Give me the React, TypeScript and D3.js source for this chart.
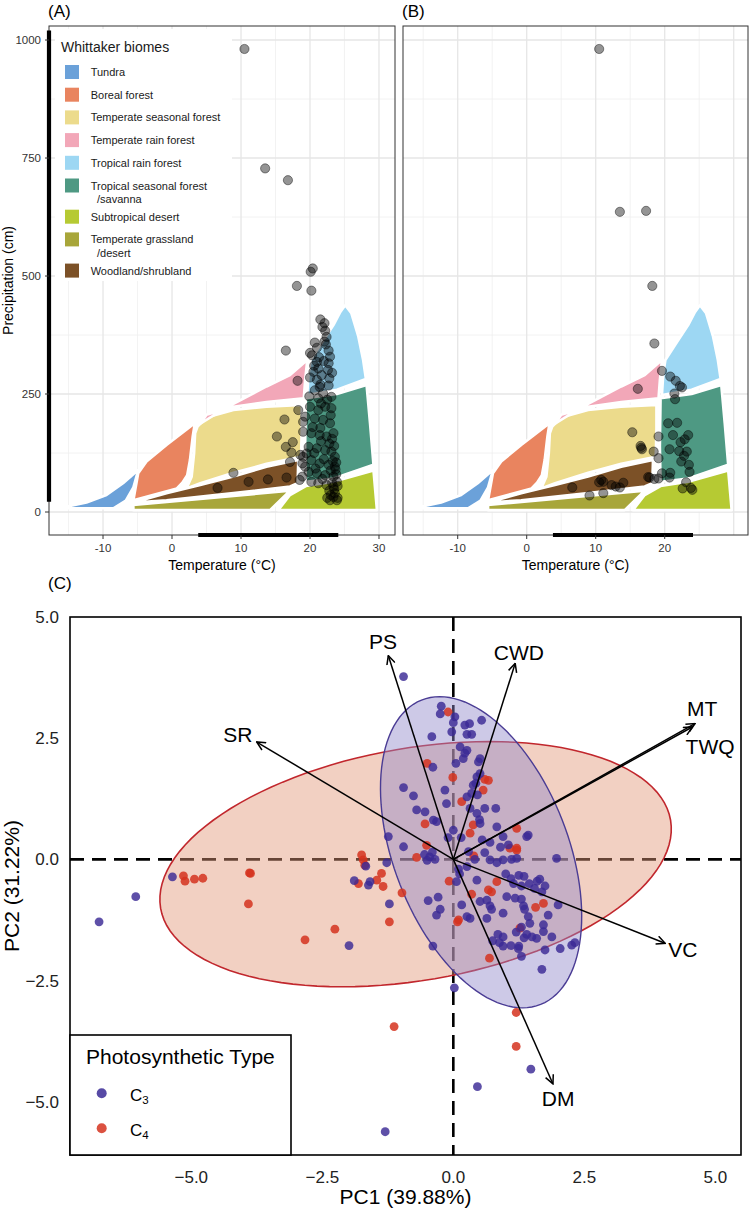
import React from "react";
import * as d3 from "d3";

type Pt = [number, number];

// ---------- Whittaker biome polygons: [temperature °C, precipitation cm] ----------
const tundra: Pt[] = [[-15.3, 11], [-12.4, 20], [-9.5, 36], [-7.1, 61], [-4.9, 89], [-5.6, 52], [-6.7, 24], [-8.5, 8], [-15.3, 8]];
const borealForest: Pt[] = [[-5.6, 25], [-4.9, 82], [-3.7, 107], [-0.8, 142], [3.3, 188], [3.0, 160], [2.6, 110], [2.2, 78], [1.5, 62], [0.7, 50]];
const temperateSeasonalForest: Pt[] = [[3.7, 181], [5.0, 200], [8.9, 216], [13.7, 223], [18.8, 227], [18.8, 174], [18.7, 117], [13.7, 102], [8.9, 83], [4.1, 61], [2.1, 50], [2.85, 75], [3.2, 124], [3.35, 167]];
const temperateRainForest: Pt[] = [[4.1, 187], [6.5, 209], [8.9, 229], [13.7, 266], [17.1, 290], [19.6, 322], [19.3, 280], [19.1, 241], [13.7, 233], [8.9, 223], [5.0, 206]];
const tropicalRainForest: Pt[] = [[19.6, 248], [19.8, 294], [20.1, 322], [21.5, 354], [23.4, 396], [24.4, 424], [25.1, 438], [26.0, 421], [27.0, 372], [27.7, 322], [28.1, 282], [23.9, 259]];
const tropicalSeasonalForest: Pt[] = [[19.4, 241], [23.9, 250], [28.2, 269], [28.7, 188], [29.2, 100], [23.4, 71], [19.4, 64], [19.3, 139]];
const subtropicalDesert: Pt[] = [[15.4, 4], [17.1, 36], [19.4, 55], [23.4, 64], [29.2, 88], [29.7, 4]];
const temperateGrassland: Pt[] = [[-5.6, 15], [17.1, 45], [14.2, 4], [-5.6, 4]];
const woodlandShrubland: Pt[] = [[-5.6, 20], [-0.8, 40], [4.1, 57], [8.9, 75], [13.7, 96], [18.3, 110], [18.2, 61], [17.1, 54], [8.9, 40], [-0.8, 25]];

const biomeNames = ["Tundra", "Boreal forest", "Temperate seasonal forest", "Temperate rain forest", "Tropical rain forest", "Tropical seasonal forest\n/savanna", "Subtropical desert", "Temperate grassland\n/desert", "Woodland/shrubland"];
const biomeColors = ["#6BA1D9", "#E9845F", "#ECDB8C", "#F2A7B8", "#9DD7F3", "#4E9983", "#B6CA33", "#A8A63A", "#7C5127"];
const biomePolygons = [tundra, borealForest, temperateSeasonalForest, temperateRainForest, tropicalRainForest, tropicalSeasonalForest, subtropicalDesert, temperateGrassland, woodlandShrubland];

// ---------- site climate points ----------
const sitesA: Pt[] = [
  [10.5, 981], [13.5, 728], [16.8, 703], [20.4, 516], [20.1, 509], [18.1, 479], [20.2, 469],
  [21.5, 408], [22.1, 400], [21.8, 392], [22.2, 384], [22.4, 371], [22.1, 361], [20.7, 359], [16.5, 342], [20.0, 337], [20.3, 332],
  [22.7, 342], [22.9, 329], [22.7, 315], [22.6, 301], [22.8, 283], [22.7, 268], [21.0, 318], [21.2, 304], [20.5, 297], [20.0, 285],
  [21.0, 280], [21.7, 290], [21.4, 265], [20.7, 258], [21.9, 251], [21.2, 241], [23.1, 244], [18.2, 278],
  [20.0, 223], [21.2, 216], [22.2, 223], [23.1, 220], [19.3, 202], [20.7, 198], [21.9, 195], [22.9, 188], [19.0, 170], [20.2, 167],
  [21.4, 163], [22.4, 160], [23.4, 167], [19.8, 138], [21.0, 135], [22.2, 131], [23.1, 128], [23.6, 117], [19.0, 117], [20.2, 110],
  [21.4, 103], [22.7, 100], [23.6, 96], [19.8, 85], [21.0, 82], [22.2, 78], [23.4, 75], [23.9, 64], [20.2, 64], [21.2, 61],
  [22.4, 57], [23.4, 54], [23.6, 40], [22.9, 25], [23.9, 25], [23.4, 32], [24.0, 30],
  [16.3, 196], [18.3, 216], [15.2, 160], [17.5, 148], [16.5, 138], [17.3, 126], [17.1, 106], [18.6, 121], [18.9, 103], [16.6, 73],
  [18.9, 75], [19.3, 96], [19.5, 124], [8.9, 83], [6.6, 51], [11.1, 64], [13.9, 69],
  [19.0, 191], [18.5, 68], [21.8, 70], [20.8, 92], [22.0, 112], [21.6, 150], [22.8, 145], [20.4, 180], [21.5, 178], [23.0, 205],
  [19.9, 245], [21.6, 230], [22.5, 238], [20.6, 125], [23.3, 108], [23.0, 88], [23.8, 80], [23.2, 62], [22.8, 45], [23.5, 48],
  [23.0, 36], [22.5, 30], [24.0, 55], [23.7, 90], [23.8, 105], [23.5, 140], [23.2, 155], [20.6, 310], [21.3, 328], [22.0, 320],
  [21.0, 348], [22.3, 355], [23.2, 295], [21.5, 270],
];
const sitesB: Pt[] = [
  [10.5, 981], [13.5, 636], [17.3, 638], [18.2, 479], [18.5, 357], [19.6, 299], [16.1, 261], [20.8, 287], [21.6, 278], [22.2, 267],
  [22.5, 264], [21.4, 251], [21.5, 239], [20.5, 188], [21.8, 189], [15.3, 169], [19.1, 160], [21.2, 163], [23.4, 163], [22.9, 154],
  [22.3, 148], [16.5, 140], [16.7, 133], [20.7, 133], [22.1, 129], [23.2, 128], [18.4, 128], [19.1, 114], [22.8, 119], [22.4, 107],
  [23.5, 100], [23.6, 85], [19.6, 82], [20.8, 83], [20.7, 73], [19.1, 71], [17.8, 73], [18.5, 70], [23.1, 63], [22.6, 50],
  [23.8, 51], [24.0, 47], [6.6, 52], [9.1, 35], [10.5, 63], [11.1, 64], [11.1, 40], [12.3, 57], [12.9, 54], [13.5, 52],
  [14.0, 62], [10.8, 68], [16.6, 136], [17.6, 74],
];
const tempRange: Pt = [3.8, 24.1];
const precipRange: Pt = [22, 1020];
const tempTicks = [-10, 0, 10, 20, 30];
const tempTicksB = [-10, 0, 10, 20];
const tempMinor = [-15, -5, 5, 15, 25];
const precipTicks = [0, 250, 500, 750, 1000];
const precipMinor = [125, 375, 625, 875];

// ---------- PCA ----------
const pcaC3: Pt[] = [
  [-0.95, 3.77], [-0.23, 3.16], [-0.25, 3.0], [0.03, 2.94], [0.0, 2.82], [0.22, 2.77], [0.31, 2.8], [0.26, 2.58], [0.54, 2.87], [-0.03, 2.63],
  [-0.41, 2.53], [0.35, 2.58], [0.13, 2.32], [0.26, 2.25], [0.19, 2.08], [0.22, 2.19], [0.48, 2.01], [0.51, 2.08], [0.05, 1.98], [-0.39, 1.9],
  [0.51, 1.77], [0.45, 1.7], [0.43, 1.57], [0.38, 1.53], [0.35, 1.36], [0.46, 1.33], [-0.16, 1.43], [-0.95, 1.48], [-0.76, 1.31], [-0.13, 1.15],
  [0.26, 1.29], [-0.7, 1.02], [-0.54, 0.98], [-0.38, 0.81], [-0.32, 0.78], [0.32, 1.05], [0.45, 0.95], [0.6, 1.05], [0.81, 1.05], [0.51, 0.74],
  [0.5, 0.82], [0.83, 0.67], [0.95, 0.47], [1.4, 0.47], [1.43, 0.5], [1.97, 0.02], [-1.24, 0.47], [-0.95, 0.26],
  [-0.55, 0.1], [-0.45, 0.05], [-0.35, 0.0], [-0.4, 0.15], [-0.5, -0.02], [-1.27, -0.07], [-1.22, -0.92], [-0.48, -0.85], [-0.29, -0.78],
  [-0.25, -1.03], [-0.32, -1.15], [0.06, -0.46], [0.45, -0.43], [0.16, -0.94], [0.26, -1.18], [0.32, -1.22], [0.51, -0.87], [0.64, -0.84],
  [0.7, -0.96], [0.73, -1.03], [0.64, -1.22], [0.95, -1.11], [1.02, -0.77], [1.18, -0.8], [1.3, -0.82], [1.34, -0.96], [1.36, -1.03],
  [1.43, -1.18], [1.46, -1.32], [1.69, -0.67], [1.65, -0.41], [2.0, -0.94], [1.81, -1.15], [1.72, -1.35], [1.72, -1.49], [1.59, -1.63],
  [1.88, -1.6], [1.2, -1.5], [1.3, -1.4], [1.4, -1.55], [1.5, -1.6], [1.35, -1.62], [0.85, -1.55], [0.95, -1.6], [0.75, -1.68], [0.88, -1.72],
  [1.1, -1.78], [1.25, -1.79], [0.95, -1.79], [1.11, 0.0], [1.21, 0.02], [0.95, -0.01], [0.83, -0.07], [0.7, -0.01], [0.6, 0.14], [0.41, 0.0],
  [0.29, 0.16], [0.26, -0.15], [0.1, -0.2], [0.12, -0.3], [1.0, -0.3], [1.1, -0.4], [1.25, -0.33], [1.35, -0.35], [1.15, -0.5], [1.3, -0.55],
  [1.45, -0.5], [1.55, -0.6], [1.6, -0.45], [1.75, -0.55], [0.7, 0.35], [0.9, 0.25], [0.55, 0.4], [1.05, 0.3], [0.0, 0.6], [-0.1, 0.45], [0.15, 0.45],
  [0.02, -2.65], [1.48, -4.33], [0.46, -4.69], [-1.3, -5.62], [1.69, -2.27], [2.04, -1.84], [2.26, -1.77], [2.32, -1.72], [1.75, -1.87],
  [1.24, -1.84], [1.3, -2.0], [-0.39, -1.79], [-5.36, -0.36], [-6.06, -0.77], [-6.76, -1.29], [-1.99, -1.78], [-1.67, -0.14], [-1.89, -0.44],
  [-1.62, -0.53], [-1.59, -0.46],
];
const pcaC4: Pt[] = [
  [-0.1, 3.04], [-0.5, 1.98], [-0.01, 1.69], [0.6, 1.65], [0.67, 1.63], [0.57, 1.43], [0.16, 1.19], [-0.54, 0.73], [0.38, 0.71], [0.32, 0.54],
  [1.21, 0.64], [1.21, 0.23], [1.08, 0.23], [1.21, 0.19], [-0.7, 0.04], [-0.51, 0.29], [0.39, 0.07],
  [-1.37, -0.29], [-1.46, -0.43], [-1.34, -0.56], [-0.98, -0.69], [-1.22, -1.29], [-0.08, -0.45], [0.35, -0.72], [0.1, -1.25], [0.67, -0.63],
  [0.73, -0.67], [1.27, -1.42], [1.57, -0.99], [1.72, -0.91], [0.83, -0.46], [0.69, -2.04], [0.08, -1.29],
  [1.2, -3.16], [-1.13, -3.45], [1.2, -3.86],
  [-5.15, -0.34], [-5.12, -0.45], [-4.94, -0.41], [-4.78, -0.39], [-3.89, -0.28], [-3.87, -0.29], [-3.91, -0.92], [-2.83, -1.66], [-2.26, -1.44],
  [-1.75, 0.09], [-1.72, -0.01], [-1.69, -0.12], [-1.81, -0.5],
];
// ellipse: [centerPC1, centerPC2, halfWidthPC1, halfHeightPC2, PC1 shift of top point]
const ellipseC3 = [0.53, 0.146, 1.92, 3.21, -0.79];
const ellipseC4 = [-0.72, -0.1, 4.88, 2.53, 1.4];
const loadingNames = ["PS", "CWD", "MT", "TWQ", "SR", "VC", "DM"];
const loadingEnds: Pt[] = [[-1.24, 4.2], [1.18, 4.04], [4.61, 2.8], [4.56, 2.73], [-3.75, 2.42], [4.04, -1.73], [1.9, -4.63]];
const loadingLabels: Pt[] = [[-1.34, 4.5], [1.25, 4.27], [4.75, 3.12], [4.9, 2.32], [-4.11, 2.58], [4.38, -1.87], [2.0, -4.94]];
const pcTicks = [-5, -2.5, 0, 2.5, 5];

const FONT = "'Liberation Sans', Arial, Helvetica, sans-serif";

function ellipsePath(e: number[], x: any, y: any) {
  const [cx, cy, hw, hh, sh] = e;
  const b = Math.sqrt(hw * hw - sh * sh);
  const pts: Pt[] = d3.range(0, 361, 3).map((deg) => {
    const t = (deg * Math.PI) / 180;
    return [cx + sh * Math.sin(t) + b * Math.cos(t), cy + hh * Math.sin(t)];
  });
  return d3.line<Pt>().x((d) => x(d[0])).y((d) => y(d[1])).curve(d3.curveLinearClosed)(pts) || "";
}

function Whittaker(props: { x: any; y: any; pts: Pt[]; ticks: number[]; showY: boolean; showLegend: boolean; tag: string; clip: string }) {
  const { x, y, pts, ticks, showY, showLegend, tag, clip } = props;
  const [x0, x1] = x.range();
  const [yb, yt] = y.range();
  const poly = d3.line<Pt>().x((d) => x(d[0])).y((d) => y(d[1])).curve(d3.curveLinearClosed);
  const rows: { y: number; lines: string[] }[] = [];
  let cy = 72;
  biomeNames.forEach((n) => {
    const lines = n.split("\n");
    rows.push({ y: cy, lines });
    cy += 22.7 + (lines.length - 1) * 8.5;
  });
  return (
    <g>
      <defs>
        <clipPath id={clip}>
          <rect x={x0} y={yt} width={x1 - x0} height={yb - yt} />
        </clipPath>
      </defs>
      <rect x={x0} y={yt} width={x1 - x0} height={yb - yt} fill="#fff" />
      <g clipPath={`url(#${clip})`}>
        {tempMinor.map((t) => (
          <line key={"xm" + t} x1={x(t)} x2={x(t)} y1={yt} y2={yb} stroke="#efefef" strokeWidth={0.8} />
        ))}
        {precipMinor.map((p) => (
          <line key={"ym" + p} x1={x0} x2={x1} y1={y(p)} y2={y(p)} stroke="#efefef" strokeWidth={0.8} />
        ))}
        {tempTicks.map((t) => (
          <line key={"xM" + t} x1={x(t)} x2={x(t)} y1={yt} y2={yb} stroke="#e6e6e6" strokeWidth={1.3} />
        ))}
        {precipTicks.map((p) => (
          <line key={"yM" + p} x1={x0} x2={x1} y1={y(p)} y2={y(p)} stroke="#e6e6e6" strokeWidth={1.3} />
        ))}
        {biomePolygons.map((pg, i) => (
          <path key={"b" + i} d={poly(pg) || ""} fill={biomeColors[i]} stroke="#fff" strokeWidth={2.6} strokeLinejoin="round" />
        ))}
        {pts.map((d, i) => (
          <circle key={"p" + i} cx={x(d[0])} cy={y(d[1])} r={4.6} fill="#000" fillOpacity={0.42} stroke="#000" strokeOpacity={0.42} strokeWidth={1} />
        ))}
      </g>
      {showLegend && (
        <g fontFamily={FONT}>
          <rect x={55} y={29} width={177} height={252} fill="#fff" />
          <text x={61} y={46.7} fontSize={14} dominantBaseline="central" fill="#1a1a1a">Whittaker biomes</text>
          {rows.map((r, i) => (
            <g key={"lg" + i}>
              <rect x={65} y={r.y - 7} width={14} height={14} fill={biomeColors[i]} />
              {r.lines.map((ln, j) => (
                <text key={j} x={j === 0 ? 90.7 : 97} y={r.y + j * 13.4} fontSize={11} dominantBaseline="central" fill="#1a1a1a">{ln}</text>
              ))}
            </g>
          ))}
        </g>
      )}
      <rect x={x0} y={yt} width={x1 - x0} height={yb - yt} fill="none" stroke="#333" strokeWidth={1} />
      <line x1={x(tempRange[0])} x2={x(tempRange[1])} y1={yb} y2={yb} stroke="#000" strokeWidth={4} />
      {showY && <line x1={x0} x2={x0} y1={y(precipRange[0])} y2={y(precipRange[1])} stroke="#000" strokeWidth={4.2} />}
      <g fontFamily={FONT} fontSize={11.5} fill="#333">
        {ticks.map((t) => (
          <g key={"xt" + t}>
            <line x1={x(t)} x2={x(t)} y1={yb} y2={yb + 4} stroke="#333" strokeWidth={1} />
            <text x={x(t)} y={551.5} textAnchor="middle">{t}</text>
          </g>
        ))}
        {showY &&
          precipTicks.map((p) => (
            <g key={"yt" + p}>
              <line x1={x0 - 4} x2={x0} y1={y(p)} y2={y(p)} stroke="#333" strokeWidth={1} />
              <text x={41} y={y(p) + 4} textAnchor="end">{p}</text>
            </g>
          ))}
      </g>
      <text x={(x0 + x1) / 2} y={570} textAnchor="middle" fontFamily={FONT} fontSize={14} fill="#000">Temperature (°C)</text>
      {showY && (
        <text transform={`translate(12.5,${(yt + yb) / 2}) rotate(-90)`} textAnchor="middle" fontFamily={FONT} fontSize={14} fill="#000">Precipitation (cm)</text>
      )}
      <text x={x0 - 1} y={17} fontFamily={FONT} fontSize={17} fill="#000">{tag}</text>
    </g>
  );
}

export default function App() {
  const xA = d3.scaleLinear().domain([-17.83, 32.32]).range([49, 395]);
  const xB = d3.scaleLinear().domain([-17.93, 32.07]).range([403, 748]);
  const yP = d3.scaleLinear().domain([-48.7, 1029.7]).range([535, 26]);
  const xC = d3.scaleLinear().domain([-7.315, 5.49]).range([70, 741]);
  const yC = d3.scaleLinear().domain([-6.1, 5.0]).range([1155, 617]);
  const fmt = d3.format(".1f");
  const [cx0, cx1] = xC.range();
  const [cyb, cyt] = yC.range();

  return (
    <svg width={750} height={1209} style={{ position: "absolute", left: 0, top: 0, background: "#fff" }} fontFamily={FONT}>
      <defs>
        <marker id="arrowHead" viewBox="0 0 10 10" refX={9} refY={5} markerWidth={10} markerHeight={10} markerUnits="userSpaceOnUse" orient="auto">
          <path d="M0.5,0.8 L9.2,5 L0.5,9.2" fill="none" stroke="#000" strokeWidth={1.5} />
        </marker>
        <clipPath id="clipC">
          <rect x={cx0} y={cyt} width={cx1 - cx0} height={cyb - cyt} />
        </clipPath>
      </defs>
      <rect x={0} y={0} width={750} height={1209} fill="#fff" />
      <Whittaker x={xA} y={yP} pts={sitesA} ticks={tempTicks} showY={true} showLegend={true} tag="(A)" clip="clipA" />
      <Whittaker x={xB} y={yP} pts={sitesB} ticks={tempTicksB} showY={false} showLegend={false} tag="(B)" clip="clipB" />

      {/* Panel C: PCA */}
      <text x={48} y={589} fontSize={17} fill="#000">(C)</text>
      <g clipPath="url(#clipC)">
        <line x1={cx0} x2={cx1} y1={yC(0)} y2={yC(0)} stroke="#000" strokeWidth={2.6} strokeDasharray="14 8" />
        <line x1={xC(0)} x2={xC(0)} y1={cyt} y2={cyb} stroke="#000" strokeWidth={2.6} strokeDasharray="14 8" />
        <path d={ellipsePath(ellipseC4, xC, yC)} fill="#E29777" fillOpacity={0.45} stroke="#C1272D" strokeWidth={1.6} />
        <path d={ellipsePath(ellipseC3, xC, yC)} fill="#9087CA" fillOpacity={0.45} stroke="#4A3C94" strokeWidth={1.4} />
        {pcaC4.map((d, i) => (
          <circle key={"c4" + i} cx={xC(d[0])} cy={yC(d[1])} r={4.4} fill="#D5331F" fillOpacity={0.85} />
        ))}
        {pcaC3.map((d, i) => (
          <circle key={"c3" + i} cx={xC(d[0])} cy={yC(d[1])} r={4.4} fill="#3A2A95" fillOpacity={0.82} />
        ))}
        {loadingEnds.map((d, i) => (
          <line key={"ar" + i} x1={xC(0)} y1={yC(0)} x2={xC(d[0])} y2={yC(d[1])} stroke="#000" strokeWidth={1.5} markerEnd="url(#arrowHead)" />
        ))}
        {loadingLabels.map((d, i) => (
          <text key={"al" + i} x={xC(d[0])} y={yC(d[1])} textAnchor="middle" dominantBaseline="central" fontSize={21} fill="#000">{loadingNames[i]}</text>
        ))}
      </g>
      <rect x={cx0} y={cyt} width={cx1 - cx0} height={cyb - cyt} fill="none" stroke="#000" strokeWidth={1.6} />
      <rect x={70} y={1035} width={221} height={120} fill="#fff" stroke="#000" strokeWidth={1.6} />
      <text x={86} y={1064} fontSize={21} fill="#000">Photosynthetic Type</text>
      <circle cx={101.7} cy={1093.3} r={5} fill="#3A2A95" fillOpacity={0.85} />
      <circle cx={101.7} cy={1128.3} r={5} fill="#D5331F" fillOpacity={0.85} />
      <text x={130} y={1101} fontSize={17} fill="#000">C<tspan fontSize={11.5} dy={3}>3</tspan></text>
      <text x={130} y={1136} fontSize={17} fill="#000">C<tspan fontSize={11.5} dy={3}>4</tspan></text>
      <g fontSize={17} fill="#222">
        {pcTicks.map((t) => (
          <text key={"cx" + t} x={xC(t)} y={1183} textAnchor="middle">{fmt(t)}</text>
        ))}
        {pcTicks.map((t) => (
          <text key={"cy" + t} x={59} y={yC(t) + 6} textAnchor="end">{fmt(t)}</text>
        ))}
      </g>
      <text x={(cx0 + cx1) / 2} y={1204} textAnchor="middle" fontSize={21} fill="#000">PC1 (39.88%)</text>
      <text transform={`translate(19,${(cyt + cyb) / 2}) rotate(-90)`} textAnchor="middle" fontSize={21} fill="#000">PC2 (31.22%)</text>
    </svg>
  );
}
